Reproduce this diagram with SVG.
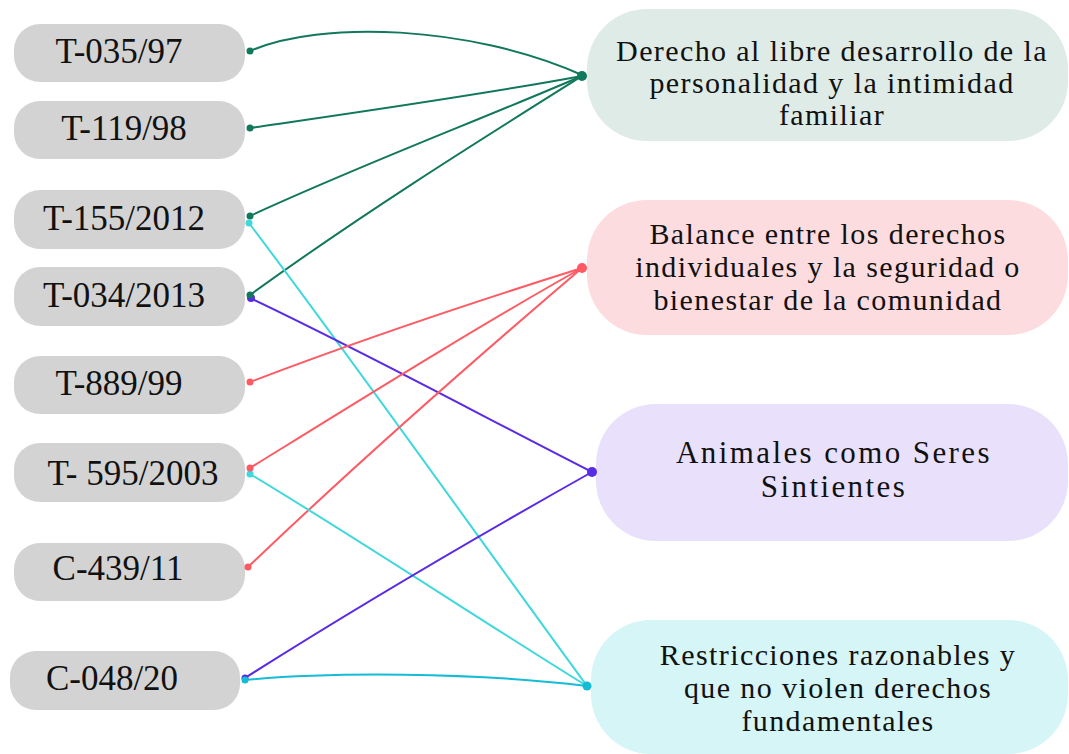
<svg xmlns="http://www.w3.org/2000/svg" width="1069" height="754" viewBox="0 0 1069 754">
<style>
.src rect{fill:#d3d3d3}
.src text{font-family:"Liberation Serif","Times New Roman",serif;font-size:35px;fill:#111;text-anchor:middle}
.tgt text{font-family:"Liberation Serif","Times New Roman",serif;font-size:30px;letter-spacing:1.4px;fill:#111;text-anchor:middle}
.tgt text.big{font-size:31px;letter-spacing:2.4px}
.e{fill:none;stroke-width:2}
.g{stroke:#11785b}.gd{fill:#11785b}
.r{stroke:#ff5a63}.rd{fill:#ff5a63}
.p{stroke:#5a2be6}.pd{fill:#5a2be6}
.c{stroke:#3fd8dc}.cd{fill:#3fd8dc}
.b{stroke:#14bcd6}.bd{fill:#14bcd6}
</style>
<rect width="1069" height="754" fill="#ffffff"/>
<g id="n-T035"  class="src"><rect x="14" y="24" width="231" height="58" rx="26"/><text x="119" y="63">T-035/97</text></g>
<g id="n-T119"  class="src"><rect x="14" y="101" width="231" height="58" rx="26"/><text x="124" y="140">T-119/98</text></g>
<g id="n-T155"  class="src"><rect x="14" y="190" width="231" height="59" rx="26"/><text x="124" y="230">T-155/2012</text></g>
<g id="n-T034"  class="src"><rect x="14" y="267" width="231" height="59" rx="26"/><text x="124" y="307">T-034/2013</text></g>
<g id="n-T889"  class="src"><rect x="14" y="356" width="231" height="58" rx="26"/><text x="119" y="395">T-889/99</text></g>
<g id="n-T595"  class="src"><rect x="14" y="443" width="231" height="59" rx="26"/><text x="133" y="485">T- 595/2003</text></g>
<g id="n-C439"  class="src"><rect x="14" y="543" width="231" height="58" rx="26"/><text x="118" y="580">C-439/11</text></g>
<g id="n-C048"  class="src"><rect x="10" y="651" width="230" height="59" rx="26"/><text x="112" y="690">C-048/20</text></g>

<g id="t-derecho" class="tgt"><rect x="587" y="9" width="481" height="132" rx="60" fill="#deebe7"/>
<text x="832" y="61">Derecho al libre desarrollo de la</text><text x="832" y="93">personalidad y la intimidad</text><text x="832" y="125">familiar</text></g>
<g id="t-balance" class="tgt"><rect x="587" y="200" width="481" height="135" rx="60" fill="#fddcdf"/>
<text x="828" y="244">Balance entre los derechos</text><text x="828" y="277">individuales y la seguridad o</text><text x="828" y="310">bienestar de la comunidad</text></g>
<g id="t-animales" class="tgt"><rect x="596" y="404" width="472" height="137" rx="60" fill="#e9e0fb"/>
<text class="big" x="834" y="463">Animales como Seres</text><text class="big" x="834" y="497">Sintientes</text></g>
<g id="t-restricciones" class="tgt"><rect x="591" y="620" width="477" height="134" rx="60" fill="#d5f5f6"/>
<text x="838" y="665">Restricciones razonables y</text><text x="838" y="698">que no violen derechos</text><text x="838" y="731">fundamentales</text></g>

<g id="connectors">
<path class="e g" d="M250,51 C320,20 470,25 582,75"/>
<path class="e g" d="M250,128 C360,112 480,95 582,76"/>
<path class="e g" d="M250,216 C360,165 480,120 582,76"/>
<path class="e g" d="M250,295 C360,215 480,140 582,76"/>
<path class="e c" d="M249,223 C360,370 480,540 587,686"/>
<path class="e p" d="M250,298 C370,355 480,415 592,472"/>
<path class="e r" d="M250,382 C360,340 480,300 582,268"/>
<path class="e r" d="M250,468 C360,400 480,325 582,268"/>
<path class="e r" d="M248,567 C360,460 480,355 582,268"/>
<path class="e c" d="M250,474 C360,540 480,620 587,686"/>
<path class="e p" d="M245,678 C360,605 480,535 592,472"/>
<path class="e b" d="M245,680 C330,672 470,672 587,686"/>
<circle class="gd" cx="250" cy="51" r="3.5"/>
<circle class="gd" cx="250" cy="128" r="3.5"/>
<circle class="gd" cx="250" cy="216" r="3.5"/>
<circle class="cd" cx="249" cy="223" r="3.5"/>
<circle class="pd" cx="251" cy="298" r="4"/>
<circle class="gd" cx="250" cy="295" r="3.5"/>
<circle class="rd" cx="250" cy="382" r="3.5"/>
<circle class="cd" cx="250" cy="474" r="3.5"/>
<circle class="rd" cx="250" cy="468" r="3.5"/>
<circle class="rd" cx="248" cy="567" r="3.5"/>
<circle class="pd" cx="245" cy="678" r="3.5"/>
<circle class="bd" cx="245" cy="680" r="3.5"/>
<circle class="gd" cx="582" cy="76" r="5"/>
<circle class="rd" cx="582" cy="268" r="5"/>
<circle class="pd" cx="592" cy="472" r="5"/>
<circle class="bd" cx="587" cy="686" r="4.5"/>
</g>
</svg>
